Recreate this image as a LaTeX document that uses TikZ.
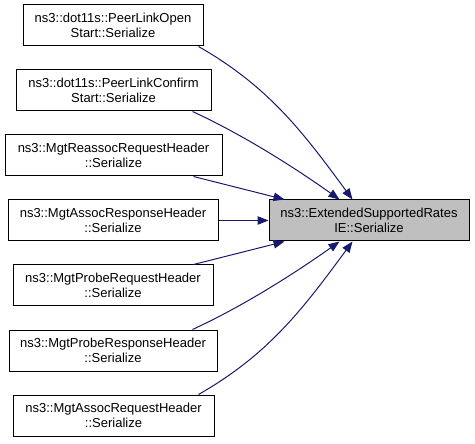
\documentclass[tikz,border=0pt]{standalone}
\usepackage{fontspec}
\setmainfont{Liberation Sans}
\usetikzlibrary{arrows.meta}
\definecolor{edgeblue}{HTML}{191970}
\definecolor{boxgray}{HTML}{BFBFBF}
\tikzset{
  fnbox/.style={draw=black, line width=1pt, fill=white, minimum height=41pt, inner sep=0pt,
    align=center, font=\fontsize{13}{15.5}\selectfont},
  tgtbox/.style={fnbox, fill=boxgray},
  edge/.style={draw=edgeblue, line width=1pt, -{Triangle[length=11pt,width=8.5pt]}, color=edgeblue}
}
\begin{document}
\begin{tikzpicture}[x=1pt,y=-1pt]
\useasboundingbox (0,0) rectangle (475,444);
\node[fnbox, minimum width=180pt] (b1) at (113,25.5) {ns3::dot11s::PeerLinkOpen\\Start::Serialize};
\node[fnbox, minimum width=195pt] (b2) at (113.5,90.5) {ns3::dot11s::PeerLinkConfirm\\Start::Serialize};
\node[fnbox, minimum width=217pt] (b3) at (113.5,155.5) {ns3::MgtReassocRequestHeader\\::Serialize};
\node[fnbox, minimum width=210pt] (b4) at (113,220.5) {ns3::MgtAssocResponseHeader\\::Serialize};
\node[fnbox, minimum width=200pt] (b5) at (113,285.5) {ns3::MgtProbeRequestHeader\\::Serialize};
\node[fnbox, minimum width=208pt] (b6) at (113,350.5) {ns3::MgtProbeResponseHeader\\::Serialize};
\node[fnbox, minimum width=201pt] (b7) at (113.5,415.5) {ns3::MgtAssocRequestHeader\\::Serialize};
\node[tgtbox, minimum width=200pt] (t) at (369,220.5) {ns3::ExtendedSupportedRates\\IE::Serialize};

\draw[edge] ([xshift=-5pt]b1.south east) .. controls +(70,40) and +(-50,-68) .. ([xshift=84pt]t.north west);
\draw[edge] ([xshift=-19pt]b2.south east) .. controls +(50,23) and +(-45,-32) .. ([xshift=71pt]t.north west);
\draw[edge] ([xshift=-29pt]b3.south east) -- ([xshift=16pt]t.north west);
\draw[edge] (b4.east) -- (t.west);
\draw[edge] ([xshift=-20pt]b5.north east) -- ([xshift=16pt]t.south west);
\draw[edge] ([xshift=-25pt]b6.north east) .. controls +(50,-23) and +(-45,32) .. ([xshift=71pt]t.south west);
\draw[edge] ([xshift=-16pt]b7.north east) .. controls +(70,-40) and +(-50,68) .. ([xshift=84pt]t.south west);
\end{tikzpicture}
\end{document}
